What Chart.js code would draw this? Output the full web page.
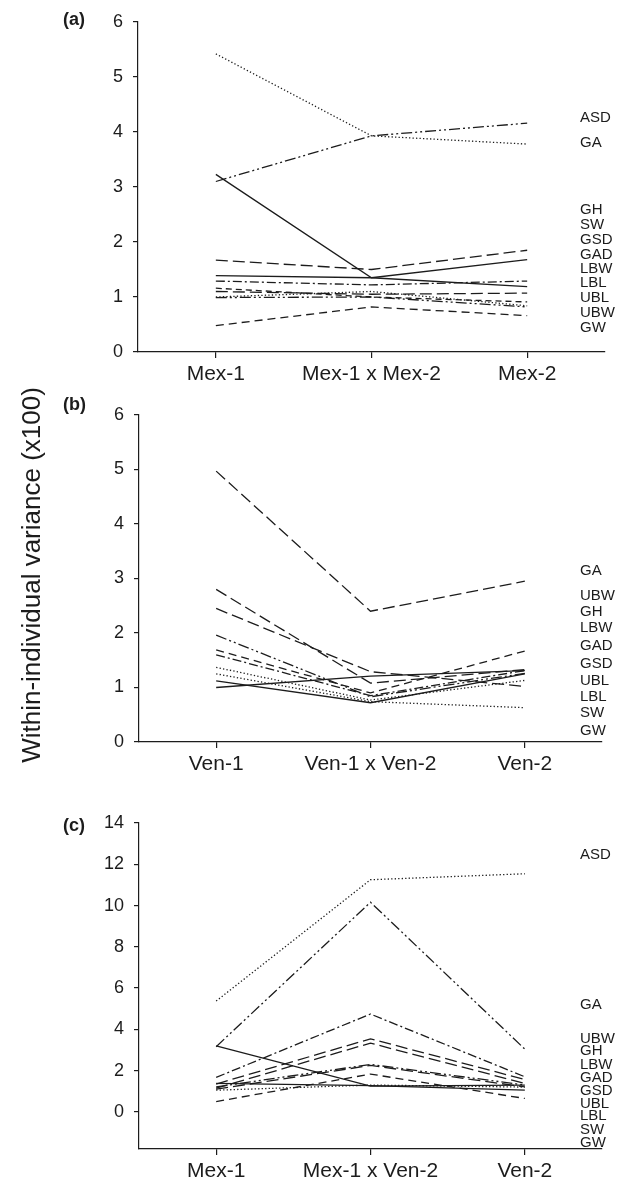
<!DOCTYPE html>
<html>
<head>
<meta charset="utf-8">
<script src="https://cdn.jsdelivr.net/npm/chart.js@4.4.1/dist/chart.umd.min.js"></script>
<style>
  html, body { margin: 0; padding: 0; background: #fff; }
  #wrap { position: relative; width: 627px; height: 1183px; }
  #wrap canvas { position: absolute; left: 0; top: 0; }
</style>
</head>
<body>
<div id="wrap">
  <canvas id="chartA" width="627" height="1183"></canvas>
  <canvas id="chartB" width="627" height="1183"></canvas>
  <canvas id="chartC" width="627" height="1183"></canvas>
</div>
<script>
  // ---- data ----
  // (a) Mexican crosses
  const catsA = ['Mex-1', 'Mex-1 x Mex-2', 'Mex-2'];
  const namesA = ['ASD', 'GA', 'GH', 'GAD', 'LBW', 'LBL', 'UBL', 'SW', 'GSD', 'UBW', 'GW'];
  const valuesA = [
    [5.42, 3.93, 3.78],
    [3.10, 3.93, 4.16],
    [3.23, 1.35, 1.68],
    [1.67, 1.50, 1.85],
    [1.39, 1.35, 1.19],
    [1.29, 1.22, 1.29],
    [1.16, 1.00, 0.91],
    [1.10, 1.05, 1.07],
    [1.00, 1.10, 0.84],
    [0.99, 1.00, 0.82],
    [0.48, 0.82, 0.66]
  ];
  const ticksA = [0, 1, 2, 3, 4, 5, 6];
  const tagsA = ['ASD', 'GA', 'GH', 'SW', 'GSD', 'GAD', 'LBW', 'LBL', 'UBL', 'UBW', 'GW'];
  const tagAtA = [4.25, 3.80, 2.58, 2.31, 2.04, 1.77, 1.52, 1.25, 0.99, 0.72, 0.44];

  // (b) Venezuelan crosses
  const catsB = ['Ven-1', 'Ven-1 x Ven-2', 'Ven-2'];
  const namesB = ['GA', 'UBW', 'GH', 'LBW', 'GAD', 'GSD', 'UBL', 'SW', 'LBL', 'GW'];
  const valuesB = [
    [4.97, 2.40, 2.95],
    [2.80, 1.08, 1.33],
    [2.45, 1.29, 1.02],
    [1.96, 0.83, 1.26],
    [1.69, 0.90, 1.67],
    [1.60, 0.85, 1.31],
    [1.37, 0.77, 1.13],
    [1.25, 0.74, 0.63],
    [1.12, 0.72, 1.25],
    [1.00, 1.21, 1.31]
  ];
  const ticksB = [0, 1, 2, 3, 4, 5, 6];
  const tagsB = ['GA', 'UBW', 'GH', 'LBW', 'GAD', 'GSD', 'UBL', 'LBL', 'SW', 'GW'];
  const tagAtB = [3.14, 2.68, 2.38, 2.09, 1.76, 1.44, 1.13, 0.83, 0.53, 0.21];

  // (c) Mex x Ven cross
  const catsC = ['Mex-1', 'Mex-1 x Ven-2', 'Ven-2'];
  const namesC = ['ASD', 'GA', 'GH', 'UBW', 'LBW', 'GAD', 'GSD', 'UBL', 'GW', 'LBL', 'SW'];
  const valuesC = [
    [5.37, 11.25, 11.54],
    [3.16, 10.16, 3.04],
    [3.20, 1.25, 1.30],
    [1.67, 4.74, 1.70],
    [1.35, 3.54, 1.57],
    [1.15, 3.33, 1.38],
    [1.21, 2.30, 1.30],
    [1.10, 2.25, 1.21],
    [0.50, 1.83, 0.65],
    [1.38, 1.27, 1.05],
    [1.05, 1.30, 1.20]
  ];
  const ticksC = [0, 2, 4, 6, 8, 10, 12, 14];
  const tagsC = ['ASD', 'GA', 'UBW', 'GH', 'LBW', 'GAD', 'GSD', 'UBL', 'LBL', 'SW', 'GW'];
  const tagAtC = [12.46, 5.18, 3.56, 2.96, 2.30, 1.65, 1.00, 0.41, -0.19, -0.85, -1.49];

  // ---- styles ----
  const W = 627, H = 1183;
  const INK = '#1c1c1c';
  const FONT = '"Liberation Sans", Arial, Helvetica, sans-serif';
  const DASH = {
    solid: [],
    dot: [1.3, 2.2],
    dash: [8, 5],
    longdash: [12, 5],
    shortdash: [6, 4],
    dashdot: [9, 3, 2, 3],
    dashdotdot: [11, 3, 2, 3, 2, 3]
  };
  const stylesA = ['dot', 'dashdotdot', 'solid', 'longdash', 'solid', 'dashdot', 'shortdash', 'longdash', 'dot', 'dashdotdot', 'dash'];
  const stylesB = ['longdash', 'longdash', 'longdash', 'dashdotdot', 'dash', 'dashdot', 'dot', 'dot', 'solid', 'solid'];
  const stylesC = ['dot', 'dashdotdot', 'solid', 'dashdot', 'longdash', 'longdash', 'dashdotdot', 'longdash', 'dash', 'solid', 'dot'];

  function buildChart(id, area, cats, names, values, styles, yMin, yMax, yTicks, tags, tagAt, panel, drawTitle) {
    const ctx = document.getElementById(id).getContext('2d');
    const yAxisW = 60, xAxisH = 40;

    const datasets = names.map((n, i) => ({
      label: n,
      data: values[i],
      borderColor: INK,
      borderWidth: 1.3,
      borderDash: DASH[styles[i]],
      borderCapStyle: 'butt',
      pointRadius: 0,
      fill: false,
      tension: 0
    }));

    const annot = {
      id: 'annot',
      afterDraw(chart) {
        const c = chart.ctx;
        const y = chart.scales.y;
        c.save();
        c.fillStyle = INK;
        // variable names on the right
        c.font = '15px ' + FONT;
        c.textAlign = 'left';
        c.textBaseline = 'middle';
        tags.forEach((t, i) => c.fillText(t, 580, y.getPixelForValue(tagAt[i])));
        // panel letter
        c.font = 'bold 18px ' + FONT;
        c.fillText(panel.text, 63, panel.y);
        // shared y axis title
        if (drawTitle) {
          c.translate(40, 575);
          c.rotate(-Math.PI / 2);
          c.font = '26px ' + FONT;
          c.textAlign = 'center';
          c.textBaseline = 'alphabetic';
          c.fillText('Within-individual variance (x100)', 0, 0);
        }
        c.restore();
      }
    };

    return new Chart(ctx, {
      type: 'line',
      data: { labels: cats, datasets: datasets },
      options: {
        responsive: false,
        animation: false,
        layout: {
          padding: {
            left: area.left - yAxisW,
            right: W - area.right,
            top: area.top,
            bottom: H - area.bottom - xAxisH
          }
        },
        plugins: {
          legend: { display: false },
          tooltip: { enabled: false }
        },
        scales: {
          x: {
            type: 'category',
            offset: true,
            afterFit: s => { s.height = xAxisH; },
            grid: { drawOnChartArea: false, tickLength: 6, color: INK, lineWidth: 1.2 },
            border: { display: true, color: INK, width: 1.2 },
            ticks: { color: INK, font: { family: FONT, size: 21 }, padding: 4, maxRotation: 0, autoSkip: false }
          },
          y: {
            min: yMin,
            max: yMax,
            afterFit: s => { s.width = yAxisW; },
            afterBuildTicks: s => { s.ticks = yTicks.map(v => ({ value: v })); },
            grid: { drawOnChartArea: false, tickLength: 5, color: INK, lineWidth: 1.2 },
            border: { display: true, color: INK, width: 1.2 },
            ticks: { color: INK, font: { family: FONT, size: 18 }, padding: 10 }
          }
        }
      },
      plugins: [annot]
    });
  }

  buildChart('chartA', { left: 138, right: 605, top: 22, bottom: 352 },
    catsA, namesA, valuesA, stylesA, 0, 6, ticksA, tagsA, tagAtA, { text: '(a)', y: 20 }, false);
  buildChart('chartB', { left: 139, right: 602, top: 415, bottom: 742 },
    catsB, namesB, valuesB, stylesB, 0, 6, ticksB, tagsB, tagAtB, { text: '(b)', y: 405 }, true);
  buildChart('chartC', { left: 139, right: 602, top: 823, bottom: 1149 },
    catsC, namesC, valuesC, stylesC, -1.8, 14, ticksC, tagsC, tagAtC, { text: '(c)', y: 826 }, false);
</script>
</body>
</html>
